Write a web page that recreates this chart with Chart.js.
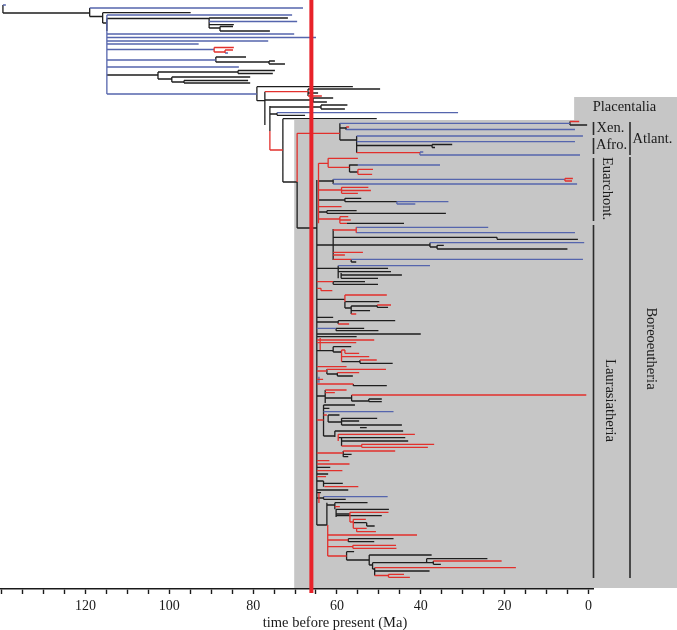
<!DOCTYPE html>
<html><head><meta charset="utf-8">
<script src="https://cdn.jsdelivr.net/npm/chart.js@4/dist/chart.umd.min.js"></script>
<style>html,body{margin:0;padding:0;background:#fff;}#wrap{width:677px;height:630px;position:relative;}</style>
</head><body><div id="wrap"><canvas id="c"></canvas></div>
<script>
// x values in Ma (time before present), y values = tip row positions (top = 0)
const KPG_MA = 66.1;
const AXIS_MIN_MA = -1.1, AXIS_MAX_MA = 140.4;
const ROW_MAX = 589;
const TICK_MA = [0,5,10,15,20,25,30,35,40,45,50,55,60,65,70,75,80,85,90,95,100,105,110,115,120,125,130,135,140];
const TICK_LABEL_MA = [0,20,40,60,80,100,120];
const PLACENTAL_BOX_MA = 70.2, PLACENTAL_BOX_ROW = 120;
const HEADER_BOX_MA = 3.4, HEADER_BOX_ROW = 97;

// horizontal branches: [row, fromMa, toMa]; vertical connectors: [Ma, fromRow, toRow]
const BLACK_H = [
[13,139.7,119.0],[16.5,119.0,115.9],[12.7,115.9,94.9],[23,115.9,114.9],[18.5,114.9,90.5],
[18,90.5,71.7],[24.7,90.5,84.6],[28,90.5,87.9],[26.5,87.9,84.8],[31,87.9,76.0],
[57,88.9,81.7],[62,88.9,76.2],[61,76.2,74.8],[64,76.2,72.4],[75,114.9,102.7],
[72,102.7,83.6],[70.5,83.6,74.8],[73.5,83.6,75.3],[79,102.7,99.4],[77,99.4,80.7],
[82,99.4,96.5],[80.5,96.5,81.2],[83,96.5,80.7],
[86.7,79.1,56.2],[100.7,79.1,77.2],[89,66.9,49.7],[93,66.9,64.5],[100,77.2,65.7],
[98,65.7,60.9],[102,65.7,62.4],[107,76.0,63.8],[105,63.8,57.5],[109,63.8,58.1],
[114,76.0,74.3],[115.3,74.3,67.6],[118.7,72.9,50.5],[182,72.9,69.5],
[125,4.4,0.3],[128,59.3,57.8],[140,59.3,55.3],[145.5,55.3,37.3],[144.5,37.3,32.5],[147.5,37.3,36.6],
[228,69.5,64.8],
[165,57.0,55.0],[172,57.0,55.0],[181,64.4,60.9],[200,64.4,58.1],[198.3,58.1,54.2],
[201.7,58.1,45.7],[212,64.4,62.4],[210.7,62.4,55.3],[213.3,62.4,34.0],[223.3,57.6,44.0],
[237.3,60.9,21.8],[239.3,21.8,2.5],[245,64.8,37.8],[247,37.8,36.1],[245.3,36.1,34.5],
[249,36.1,5.0],[262,56.6,55.4],[268.3,64.8,47.8],[271.7,59.7,47.1],[275,59.0,44.5],
[278.3,59.0,50.2],[281.7,60.9,53.3],[284.3,60.9,50.2],[299.3,64.8,58.1],[301.7,58.1,49.9],
[308,58.1,56.6],[306,56.6,50.4],[307.3,50.4,47.8],[310.7,56.6,52.1],[317.3,64.8,60.9],
[322,64.8,59.7],[320.7,59.7,46.1],[328.3,60.2,53.5],[330.7,60.2,50.1],[334,64.8,40.0],
[336.7,64.8,55.3],[346.7,60.9,56.6],[350.7,64.8,60.9],[352,60.9,58.9],[361.7,58.9,54.5],
[363.3,54.5,46.7],[374,62.4,59.9],[376,59.9,56.2],[385.7,56.1,48.1],[396,64.8,62.8],
[398,62.8,56.5],[401,56.5,52.4],[399,52.4,49.3],[401.7,52.4,49.3],[405,63.2,55.7],
[408.3,63.2,61.8],[415,62.1,59.4],[422,62.1,58.9],[418.3,58.9,50.4],[421,58.9,54.7],
[425,58.9,44.5],[427.7,54.5,52.9],[436,63.2,60.5],[431,60.5,44.2],[437.7,59.7,43.7],
[441,58.9,43.0],[454.3,58.5,56.5],[456.7,58.5,57.3],[467.3,64.8,61.6],[474,64.8,62.1],
[481,64.8,63.2],[483.3,63.2,58.6],[490,64.8,57.3],[492.7,64.8,63.8],[498,64.8,63.2],
[499.3,63.2,57.9],[525,64.8,62.4],[505,62.4,60.5],[502.7,60.5,52.7],[509.3,60.2,47.6],
[514,60.2,56.9],[515.7,60.2,49.3],[522.7,56.1,52.9],[526,52.9,51.0],[538.7,57.3,46.5],
[541.7,57.3,51.1],[551.7,57.7,55.9],[560,57.7,52.3],[555,52.3,37.4],[565,52.3,51.5],
[562.7,51.5,37.0],[558.7,38.6,24.1],[564.3,37.0,35.2],[569,51.5,51.0],[571,51.0,37.9]
];
const BLACK_V = [
[139.7,5,13],[119.0,8,16.5],[115.9,12.7,23],[114.9,18.5,31],[90.5,18,28],[87.9,26.5,31],
[88.9,57,62],[76.2,61,64],[102.7,72,79],[83.6,70.5,73.5],[99.4,77,82],[96.5,80.5,83],
[79.1,86.7,100.7],[77.2,91.7,125],[66.9,89,96],[65.7,98,102],[76.0,106,131],[63.8,105,109],
[74.3,112.7,115.3],[72.9,118.7,182],[69.5,182,228],[4.4,121.5,125],[59.3,123.3,140],
[57.8,127,130],[55.3,136,152.7],[37.3,144.5,147.5],[64.8,180,525],
[57.0,164.5,172],[60.9,179.3,184],[58.1,198.3,201.7],[62.4,210.7,213.3],
[60.9,229,260],[21.8,237.3,239.3],[37.8,242.7,247],[36.1,245.3,249],[56.6,259.3,262],
[59.7,265.7,278.3],[59.0,273,278.3],[60.9,281.7,284.3],[58.1,301.7,308],[56.6,306,314],
[50.4,305,307.3],[59.7,320.7,324],[60.2,328.3,330.7],[60.9,346.7,352],[54.5,360,363.3],
[62.4,369.3,374],[59.9,372.7,376],[56.1,384,385.7],[62.8,390,403],[56.5,395,401],
[52.4,399,401.7],[63.2,405,436],[62.1,415,422],[58.9,418.3,425],[60.5,431,437],
[58.9,437.7,446],[58.5,451,456.7],[63.2,481,486.7],[63.2,496.7,499.3],[62.4,502.7,525],
[60.5,502.7,509.3],[60.2,509.3,517],[52.9,522.7,526],[57.3,538.7,541.7],[57.7,551.7,560],
[52.3,555,565],[51.5,562.7,569],[38.6,558.7,562.7],[37.0,561,564.3],[51.0,567.7,575.5]
];
const BLUE_H = [
[5,139.7,139.0],[8,119.0,68.1],[15,114.9,70.7],[21.5,90.5,69.5],[34,114.9,70.2],
[37.5,114.9,65.0],[41,114.9,76.4],[44,114.9,93.0],[49.5,114.9,89.3],[53,86.7,86.0],
[60,114.9,88.9],[67,114.9,83.4],[94,114.9,79.1],[112.7,74.3,31.1],
[123.3,59.3,4.4],[129.5,57.8,3.2],[136,55.3,1.3],[141.7,55.3,3.2],[155,40.2,2.0],[152,40.2,39.4],
[165,55.0,35.4],[179.3,60.9,5.6],[184,60.9,2.7],[201.7,45.7,33.4],[204,45.7,41.3],
[227.3,55.4,23.9],[232.7,55.4,3.2],[242.7,37.8,1.0],[259.3,56.6,1.3],[265.7,59.7,37.8],
[328.3,64.8,60.2],[411.7,63.2,46.5],[496.7,63.2,47.9]
];
const BLUE_V = [
[114.9,15,94],[45.7,201.7,204],[40.2,152,155],[64.3,376.7,382.7]
];
const RED_H = [
[47.5,89.3,84.6],[52,89.3,86.7],[50,86.7,84.8],[91.7,77.2,66.9],[96,66.9,63.6],
[150,76.0,72.9],[133.3,69.5,59.3],[121.5,4.4,2.2],[127,57.8,57.1],[152.7,55.3,40.2],
[163.3,64.4,62.1],[158.3,62.1,55.0],[167.3,62.1,57.0],[169.3,55.0,51.4],[174.3,55.0,51.6],
[178.5,5.6,3.7],[181,5.6,3.9],[190,64.4,58.9],[187.3,58.9,52.5],[190.5,58.9,51.9],
[193.3,58.9,55.0],[206.7,64.4,58.9],[219,64.4,59.3],[216.7,59.3,57.3],[220,59.3,56.7],
[223.3,59.3,57.6],
[230,60.9,55.4],[252.3,60.9,53.8],[255,60.9,58.1],[259.3,60.9,56.6],[281.7,64.8,60.9],
[288.3,64.8,63.8],[290.7,63.8,61.1],[295,58.1,48.1],[305,50.4,47.1],[314,56.6,55.4],
[324,59.7,57.1],[340,64.8,51.1],[342.7,64.8,55.4],[350,58.9,58.1],[353.3,58.1,54.7],
[356.7,58.9,52.3],[360,54.5,50.5],[366.7,64.8,57.7],[371,64.8,62.4],[369.3,62.4,48.3],
[372.7,59.9,54.7],[379.3,64.8,63.3],[384,64.8,56.1],[390,62.8,57.7],[392.7,62.8,60.5],
[395,56.5,0.5],[415,63.2,62.4],[420,64.8,63.2],[434.3,59.7,41.4],[446,58.9,54.1],
[444.3,54.1,36.8],[447.3,54.1,38.3],[453,64.8,58.5],[451,58.5,46.1],[460.7,64.8,61.8],
[464,64.8,57.0],[470.7,64.8,58.7],[476.7,64.8,62.6],[486.7,63.0,54.9],[506.7,60.5,59.3],
[512.3,56.9,47.7],[522,56.9,56.1],[519.3,56.1,53.1],[528.3,56.1,52.9],[531.7,55.3,50.7],
[535,62.2,40.9],[540,62.2,57.3],[546.7,62.2,56.2],[545.3,56.2,45.9],[548.3,56.2,45.8],
[556,62.2,57.7],[561,37.0,20.7],[567.7,51.0,17.3],[575.5,51.0,47.7],[574.3,47.7,44.0],
[577.3,47.7,42.6]
];
const RED_V = [
[89.3,47.5,52],[86.7,50,53],[76.0,131,150],[69.5,133.3,182],[64.4,163.3,223.3],
[62.1,158.3,167.3],[55.0,169.3,174.3],[5.6,178.5,181],[58.9,187.3,193.3],[59.3,216.7,223.3],
[55.4,227.3,232.7],[63.8,288.3,290.7],[58.1,295,301.7],[58.9,350,361.7],[58.1,350,353.3],
[64.0,338,350],[56.9,512.3,522],[56.1,519.3,528.3],[55.3,528.3,531.7],[62.2,525,556],
[56.2,545.3,548.3],[54.1,444.3,447.3],[59.7,434.3,441],[47.7,574.3,577.3],[64.3,493,503]
];

const BLACK = '#1e1e1e', BLUE = '#5565ad', RED = '#e2302c', KPG_RED = '#e8222a', GRAY = '#c6c6c6';
const SERIF = '"Liberation Serif", "Times New Roman", serif';

function toPoints(h, v) {
  const pts = [];
  for (const [y, a, b] of h) { pts.push({x: a, y: y}, {x: b, y: y}, {x: b, y: null}); }
  for (const [x, a, b] of v) { pts.push({x: x, y: a}, {x: x, y: b}, {x: x, y: null}); }
  return pts;
}
function treeSet(data, color, order) {
  return { data, borderColor: color, borderWidth: 1.3, pointRadius: 0, showLine: true,
    spanGaps: false, tension: 0, order, borderCapStyle: 'butt' };
}

const decor = {
  id: 'decor',
  beforeDraw(chart) {
    const {ctx, chartArea, scales: {x, y}} = chart;
    ctx.save();
    ctx.fillStyle = GRAY;
    const l = x.getPixelForValue(PLACENTAL_BOX_MA), t = y.getPixelForValue(PLACENTAL_BOX_ROW);
    ctx.fillRect(l, t, chart.width - l, chartArea.bottom - 1 - t);
    const hl = x.getPixelForValue(HEADER_BOX_MA), ht = y.getPixelForValue(HEADER_BOX_ROW);
    ctx.fillRect(hl, ht, chart.width - hl, t - ht + 1);
    ctx.restore();
  },
  afterDraw(chart) {
    const {ctx, chartArea, scales: {y}} = chart;
    const r = chartArea.right;
    const b1 = r + 0.5, b2 = r + 37;
    ctx.save();
    ctx.strokeStyle = '#2a2a2a'; ctx.lineWidth = 1.6;
    const bars = [[b1,122,135],[b1,138,154],[b2,122,155],[b1,158,221],[b1,225,578],[b2,157,578]];
    for (const [bx, y1, y2] of bars) {
      ctx.beginPath(); ctx.moveTo(bx, y.getPixelForValue(y1)); ctx.lineTo(bx, y.getPixelForValue(y2)); ctx.stroke();
    }
    ctx.fillStyle = '#1a1a1a';
    ctx.font = '14.5px ' + SERIF;
    ctx.textBaseline = 'middle';
    ctx.textAlign = 'center';
    ctx.fillText('Placentalia', r + 31.5, y.getPixelForValue(107.5));
    ctx.textAlign = 'left';
    ctx.fillText('Xen.', r + 3.5, y.getPixelForValue(128.5));
    ctx.fillText('Afro.', r + 3, y.getPixelForValue(145.5));
    ctx.fillText('Atlant.', r + 39.5, y.getPixelForValue(139.5));
    const rot = (txt, cx, cy) => {
      ctx.save(); ctx.translate(cx, cy); ctx.rotate(Math.PI / 2);
      ctx.textAlign = 'center'; ctx.textBaseline = 'middle'; ctx.fillText(txt, 0, 0); ctx.restore();
    };
    rot('Euarchont.', r + 13.5, y.getPixelForValue(188.5));
    rot('Laurasiatheria', r + 16.5, y.getPixelForValue(400.5));
    rot('Boreoeutheria', r + 58, y.getPixelForValue(348.5));
    ctx.textAlign = 'center';
    ctx.font = '14.5px ' + SERIF;
    ctx.fillText('time before present (Ma)', 335, 623);
    ctx.restore();
  }
};

new Chart(document.getElementById('c'), {
  type: 'scatter',
  data: { datasets: [
    { data: [{x: KPG_MA, y: 0}, {x: KPG_MA, y: 593}], borderColor: KPG_RED, borderWidth: 4,
      pointRadius: 0, showLine: true, order: 0, clip: false, borderCapStyle: 'butt' },
    treeSet(toPoints(RED_H, RED_V), RED, 1),
    treeSet(toPoints(BLUE_H, BLUE_V), BLUE, 2),
    treeSet(toPoints(BLACK_H, BLACK_V), BLACK, 3)
  ]},
  options: {
    responsive: true, maintainAspectRatio: false, animation: false, events: [],
    layout: { padding: { left: 0, right: 84, top: 0, bottom: 0 } },
    plugins: { legend: { display: false }, tooltip: { enabled: false } },
    scales: {
      x: {
        type: 'linear', reverse: true, min: AXIS_MIN_MA, max: AXIS_MAX_MA,
        afterBuildTicks: s => { s.ticks = TICK_MA.map(v => ({value: v})); },
        afterFit: s => { s.height = 630 - ROW_MAX; },
        ticks: { autoSkip: false, maxRotation: 0, padding: 4, color: '#1a1a1a',
          font: { family: SERIF, size: 14 },
          callback: v => (TICK_LABEL_MA.includes(v) ? String(v) : '') },
        grid: { drawOnChartArea: false, drawTicks: true, tickLength: 5, tickColor: '#1a1a1a', tickWidth: 1.4 },
        border: { display: true, color: '#1a1a1a', width: 1.6 }
      },
      y: { type: 'linear', display: false, reverse: true, min: 0, max: ROW_MAX }
    }
  },
  plugins: [decor]
});
</script>
</body></html>
